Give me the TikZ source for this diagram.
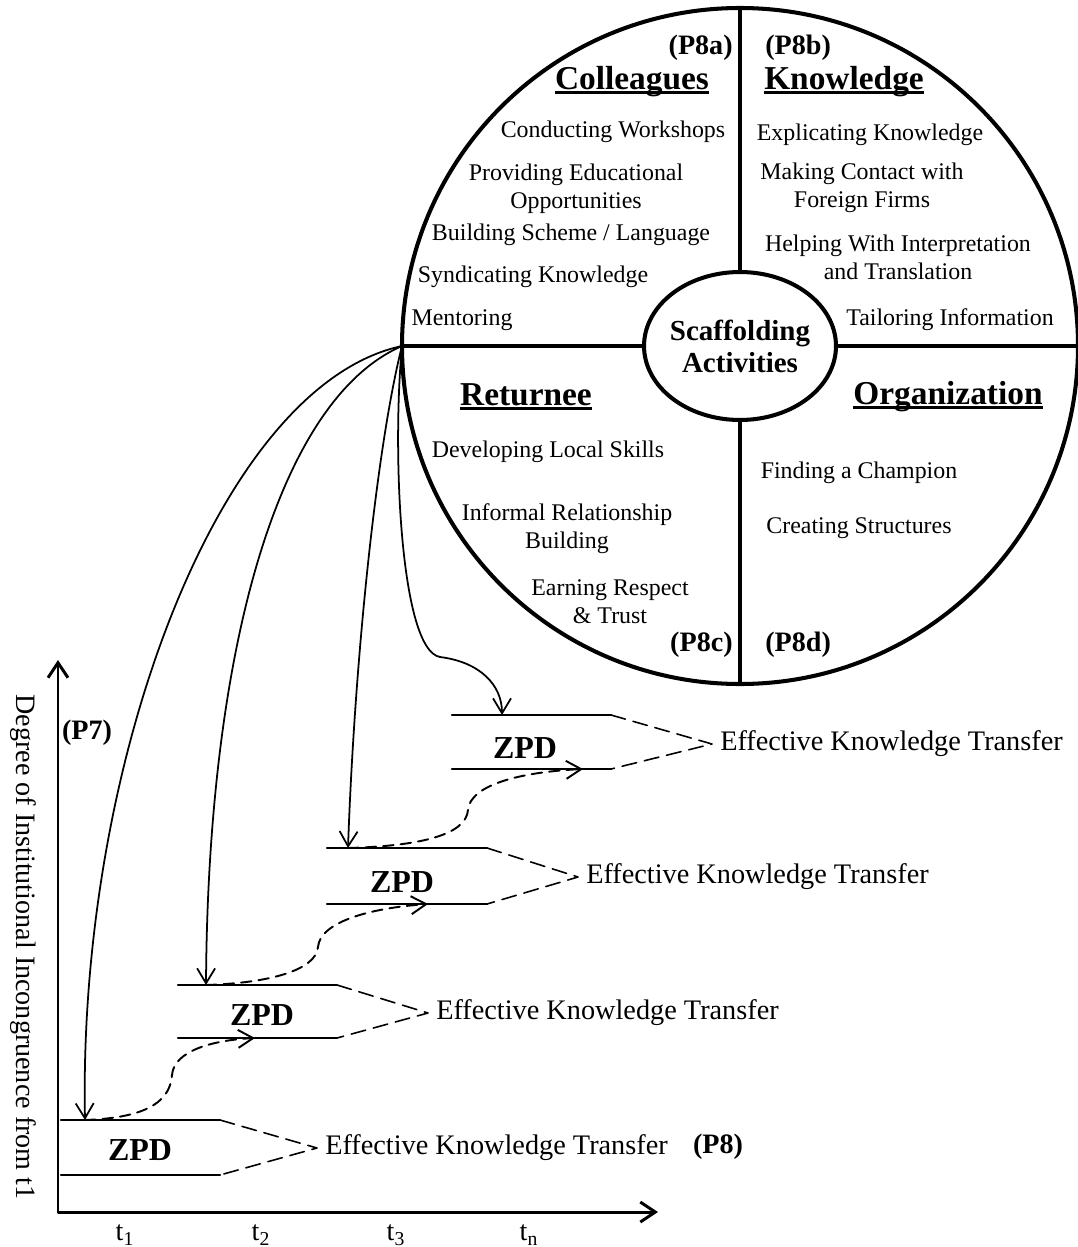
\documentclass[tikz,border=0pt]{standalone}
\usepackage{fontspec}
\setmainfont{Liberation Serif}
\usepackage{tikz}
\usetikzlibrary{arrows.meta}
\usetikzlibrary{shapes.geometric}
\newcommand{\headul}[1]{\setbox0=\hbox{#1}\rlap{\rule[-0.13em]{\wd0}{0.085em}}\box0}
\tikzset{
  activity/.style={font=\fontsize{13.6}{16}\selectfont, align=center, inner sep=0pt},
  sector/.style={font=\fontsize{19}{22}\selectfont\bfseries, inner sep=0pt},
  prop/.style={font=\fontsize{16}{19}\selectfont\bfseries, inner sep=0pt},
  coretext/.style={font=\fontsize{16.5}{18.2}\selectfont\bfseries, align=center, inner sep=0pt},
  zpdline/.style={line width=1.4pt},
  zpdlabel/.style={font=\fontsize{18.2}{21}\selectfont\bfseries, inner sep=0pt},
  transfer/.style={font=\fontsize{16.1}{19}\selectfont, anchor=west, inner xsep=4.5pt},
  funnel/.style={line width=0.9pt, dash pattern=on 8.5pt off 4.5pt},
  support/.style={->, line width=1pt},
  progress/.style={->, line width=1.1pt, dash pattern=on 6pt off 4pt},
  tick/.style={font=\fontsize{16}{19}\selectfont}
}

\begin{document}
\begin{tikzpicture}[line cap=round,line join=round,>={Straight Barb[length=3mm,width=3.6mm]},x=0.02cm,y=-0.02cm]
\useasboundingbox (0,0) rectangle (1078,1247);
% the wheel
\coordinate (hub) at (402,346);
\coordinate (wheelE) at (1078,346);
\coordinate (wheelN) at (740,8);
\coordinate (wheelS) at (740,684);
\draw [line width=2.3pt] (740,346) circle (338);
\node [ellipse, draw, line width=2.3pt, minimum width=3.84cm, minimum height=2.96cm, inner sep=0pt] (core) at (740,346) {};
\node [coretext] (coretxt) at (core) {Scaffolding\\Activities};
\draw [line width=2pt] (hub) -- (core.west);
\draw [line width=2pt] (core.east) -- (wheelE);
\draw [line width=2pt] (wheelN) -- (core.north);
\draw [line width=2pt] (core.south) -- (wheelS);
% colleagues
\node [prop, anchor=east] (p8a) at (733,48) {(P8a)};
\node [sector] (colleagues) at (632,82) {\headul{Colleagues}};
\node [activity] (workshops) at (613,132) {Conducting Workshops};
\node [activity] (education) at (576,189) {Providing Educational\\Opportunities};
\node [activity] (scheme) at (571,235) {Building Scheme / Language};
\node [activity] (syndicate) at (533,277) {Syndicating Knowledge};
\node [activity] (mentor) at (462,320) {Mentoring};
% knowledge
\node [prop, anchor=west] (p8b) at (765,48) {(P8b)};
\node [sector] (knowledge) at (844,82) {\headul{Knowledge}};
\node [activity] (explicate) at (870,135) {Explicating Knowledge};
\node [activity] (contact) at (862,188) {Making Contact with\\Foreign Firms};
\node [activity] (interpret) at (898,257) {Helping With Interpretation\\and Translation};
\node [activity] (tailor) at (950,320) {Tailoring Information};
% returnee
\node [sector] (returnee) at (526,397) {\headul{Returnee}};
\node [activity] (local) at (548,452) {Developing Local Skills};
\node [activity] (informal) at (567,529) {Informal Relationship\\Building};
\node [activity] (respect) at (610,602) {Earning Respect\\\& Trust};
\node [prop, anchor=east] (p8c) at (733,645) {(P8c)};
% organization
\node [sector] (organization) at (948,397) {\headul{Organization}};
\node [activity] (champion) at (859,473) {Finding a Champion};
\node [activity] (structures) at (859,528) {Creating Structures};
\node [prop, anchor=west] (p8d) at (765,645) {(P8d)};
% axes
\coordinate (origin) at (58,1212);
\coordinate (yend) at (58,660);
\coordinate (xend) at (658,1212);
\draw [line width=1.7pt, <->, >={Straight Barb[length=3mm,width=4mm]}] (yend) -- (origin) -- (xend);
\node [tick, rotate=-90] (ylabel) at (23,947) {Degree of Institutional Incongruence from t1};
\node [prop] (p7) at (87,733) {(P7)};
\node [tick] (t1) at (125,1235) {t\textsubscript{1}};
\node [tick] (t2) at (261,1235) {t\textsubscript{2}};
\node [tick] (t3) at (396,1235) {t\textsubscript{3}};
\node [tick] (tn) at (529,1235) {t\textsubscript{n}};
% zpd 1
\coordinate (z1tl) at (61,1120);
\coordinate (z1tr) at (220,1120);
\coordinate (z1bl) at (61,1175);
\coordinate (z1br) at (220,1175);
\coordinate (in1) at (85,1120);
\draw [zpdline] (z1tl) -- (z1tr);
\draw [zpdline] (z1bl) -- (z1br);
\node [zpdlabel] (zpd1) at (140,1150) {ZPD};
\node [transfer] (ekt1) at (317,1148) {Effective Knowledge Transfer};
\draw [funnel] (z1tr) -- (ekt1.west) -- (z1br);
\node [prop] (p8) at (718,1147) {(P8)};
% zpd 2
\coordinate (z2tl) at (178,985);
\coordinate (z2tr) at (337,985);
\coordinate (z2bl) at (178,1038);
\coordinate (z2br) at (337,1038);
\coordinate (in2) at (206,985);
\coordinate (out2) at (255,1038);
\draw [zpdline] (z2tl) -- (z2tr);
\draw [zpdline] (z2bl) -- (z2br);
\node [zpdlabel] (zpd2) at (262,1015) {ZPD};
\node [transfer] (ekt2) at (428,1013) {Effective Knowledge Transfer};
\draw [funnel] (z2tr) -- (ekt2.west) -- (z2br);
% zpd 3
\coordinate (z3tl) at (327,848);
\coordinate (z3tr) at (487,848);
\coordinate (z3bl) at (327,904);
\coordinate (z3br) at (487,904);
\coordinate (in3) at (348,848);
\coordinate (out3) at (428,904);
\draw [zpdline] (z3tl) -- (z3tr);
\draw [zpdline] (z3bl) -- (z3br);
\node [zpdlabel] (zpd3) at (402,882) {ZPD};
\node [transfer] (ekt3) at (578,877) {Effective Knowledge Transfer};
\draw [funnel] (z3tr) -- (ekt3.west) -- (z3br);
% zpd 4
\coordinate (z4tl) at (452,715);
\coordinate (z4tr) at (611,715);
\coordinate (z4bl) at (452,769);
\coordinate (z4br) at (611,769);
\coordinate (in4) at (502,715);
\coordinate (out4) at (583,769);
\draw [zpdline] (z4tl) -- (z4tr);
\draw [zpdline] (z4bl) -- (z4br);
\node [zpdlabel] (zpd4) at (525,748) {ZPD};
\node [transfer] (ekt4) at (712,744) {Effective Knowledge Transfer};
\draw [funnel] (z4tr) -- (ekt4.west) -- (z4br);
% scaffolding arrows
\draw [support] (hub) .. controls (220,385) and (78,760) .. (in1);
\draw [support] (hub) .. controls (278,400) and (208,650) .. (in2);
\draw [support] (hub) .. controls (378,440) and (355,650) .. (in3);
\draw [support] (hub) .. controls (392,450) and (400,650) .. (440,657) .. controls (480,662) and (502,685) .. (in4);
% progression
\draw [progress] (in1) .. controls (140,1118) and (170,1105) .. (172,1075) .. controls (174,1050) and (215,1040) .. (out2);
\draw [progress] (in2) .. controls (270,983) and (316,970) .. (318,947) .. controls (320,922) and (370,908) .. (out3);
\draw [progress] (in3) .. controls (420,846) and (466,835) .. (468,810) .. controls (470,785) and (520,772) .. (out4);
\end{tikzpicture}
\end{document}
